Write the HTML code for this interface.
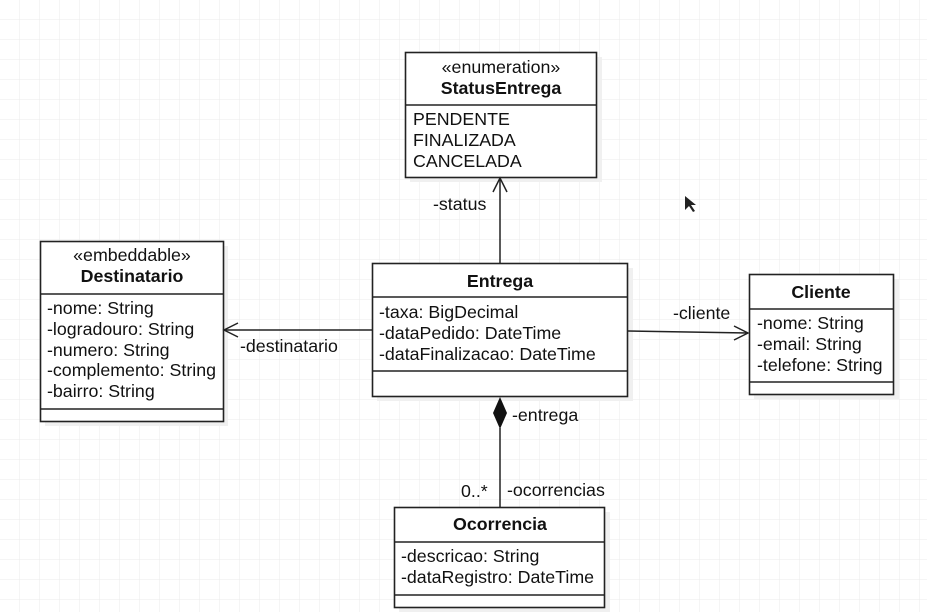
<!DOCTYPE html>
<html><head><meta charset="utf-8"><style>
html,body{margin:0;padding:0;background:#fff;}
svg{display:block;font-family:"Liberation Sans",Arial,sans-serif;}
</style></head><body>
<svg width="927" height="612" viewBox="0 0 927 612" xmlns="http://www.w3.org/2000/svg">
<defs>
<pattern id="g" width="20" height="20" patternUnits="userSpaceOnUse" x="0" y="0">
<path d="M20 0V20M0 20H20" fill="none" stroke="#ebebeb" stroke-width="1"/>
</pattern>
</defs>
<rect width="927" height="612" fill="#fff"/>
<rect width="927" height="612" fill="url(#g)"/>
<g fill="#f0f0f0">
<rect x="410" y="57" width="192" height="125"/>
<rect x="45" y="246" width="183" height="180"/>
<rect x="377" y="268" width="256" height="133"/>
<rect x="754" y="279" width="145" height="120"/>
<rect x="399" y="512" width="211" height="100"/>
</g>
<g stroke="#222" stroke-width="1.6" fill="#fff">
<rect x="405.5" y="52.5" width="191" height="125"/>
<line x1="405" y1="105" x2="597" y2="105"/>
<rect x="40.5" y="241.5" width="183" height="180"/>
<line x1="40" y1="294" x2="224" y2="294"/>
<line x1="40" y1="409" x2="224" y2="409"/>
<rect x="372.5" y="263.5" width="255" height="133"/>
<line x1="372" y1="297" x2="628" y2="297"/>
<line x1="372" y1="371" x2="628" y2="371"/>
<rect x="749.5" y="274.5" width="144" height="120"/>
<line x1="749" y1="309" x2="894" y2="309"/>
<line x1="749" y1="382" x2="894" y2="382"/>
<rect x="394.5" y="507.5" width="210" height="100"/>
<line x1="394" y1="542" x2="605" y2="542"/>
<line x1="394" y1="595" x2="605" y2="595"/>
</g>
<g stroke="#222" stroke-width="1.5" fill="none">
<line x1="500" y1="263" x2="500" y2="178"/>
<polyline points="493,192 500,178 507,192"/>
<line x1="372" y1="330" x2="224" y2="330"/>
<polyline points="238,323 224,330 238,337"/>
<line x1="628" y1="331" x2="748" y2="333"/>
<polyline points="734,326 748,333 734,340"/>
<line x1="500" y1="428" x2="500" y2="507"/>
</g>
<polygon points="500,397 507,413 500,429 493,413" fill="#111"/>
<g font-size="17.8" fill="#111">
<text x="501" y="73" text-anchor="middle">«enumeration»</text>
<text x="501" y="94" text-anchor="middle" font-weight="bold">StatusEntrega</text>
<text x="413" y="125">PENDENTE</text>
<text x="413" y="146">FINALIZADA</text>
<text x="413" y="167">CANCELADA</text>
<text x="433" y="210">-status</text>
<text x="132" y="261" text-anchor="middle">«embeddable»</text>
<text x="132" y="282" text-anchor="middle" font-weight="bold">Destinatario</text>
<text x="47" y="314">-nome: String</text>
<text x="47" y="335">-logradouro: String</text>
<text x="47" y="356">-numero: String</text>
<text x="47" y="376">-complemento: String</text>
<text x="47" y="397">-bairro: String</text>
<text x="240" y="352">-destinatario</text>
<text x="500" y="287" text-anchor="middle" font-weight="bold">Entrega</text>
<text x="379" y="318">-taxa: BigDecimal</text>
<text x="379" y="339">-dataPedido: DateTime</text>
<text x="379" y="360">-dataFinalizacao: DateTime</text>
<text x="673" y="319">-cliente</text>
<text x="821" y="298" text-anchor="middle" font-weight="bold">Cliente</text>
<text x="757" y="329">-nome: String</text>
<text x="757" y="350">-email: String</text>
<text x="757" y="371">-telefone: String</text>
<text x="512" y="421">-entrega</text>
<text x="461" y="497">0..*</text>
<text x="507" y="496">-ocorrencias</text>
<text x="500" y="530" text-anchor="middle" font-weight="bold">Ocorrencia</text>
<text x="401" y="562">-descricao: String</text>
<text x="401" y="583">-dataRegistro: DateTime</text>
</g>
<polygon points="685,196 685,210 689,206 693,212 695,211 691,205 696,205" fill="#222"/>
</svg>
</body></html>
